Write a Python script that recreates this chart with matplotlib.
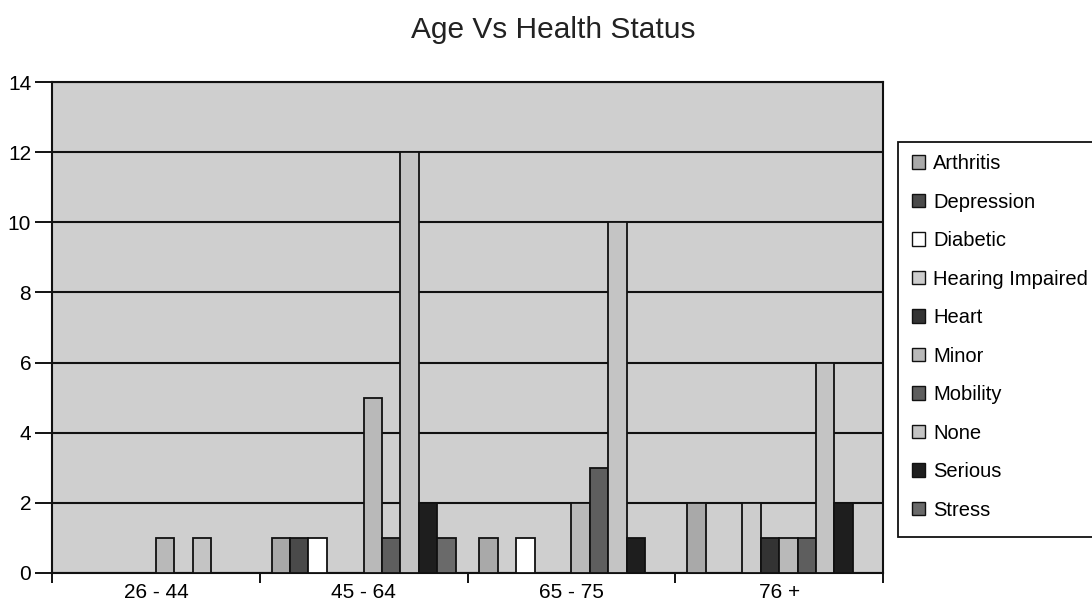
import matplotlib
matplotlib.use('Agg')
import matplotlib.pyplot as plt
import numpy as np
from matplotlib.patches import Patch, Rectangle

plt.rcParams['font.family'] = ['Liberation Sans', 'DejaVu Sans']

# 数据
age_groups = ['26 - 44', '45 - 64', '65 - 75', '76 +']
conditions = ['Arthritis', 'Depression', 'Diabetic', 'Hearing Impaired', 'Heart',
              'Minor', 'Mobility', 'None', 'Serious', 'Stress']
arthritis = [0, 1, 1, 2]
depression = [0, 1, 0, 0]
diabetic = [0, 1, 1, 0]
hearing = [0, 0, 0, 2]
heart = [0, 0, 0, 1]
minor = [1, 5, 2, 1]
mobility = [0, 1, 3, 1]
none = [1, 12, 10, 6]
serious = [0, 2, 1, 2]
stress = [0, 1, 0, 0]

series = [arthritis, depression, diabetic, hearing, heart,
          minor, mobility, none, serious, stress]
colors = ['#a9a9a9', '#4a4a4a', '#ffffff', '#cdcdcd', '#333333',
          '#b9b9b9', '#5e5e5e', '#c4c4c4', '#1e1e1e', '#6a6a6a']

fig = plt.figure(figsize=(10.92, 6.08), dpi=100)
ax = fig.add_axes([52 / 1092, 35 / 608, 831 / 1092, 491 / 608])
ax.set_facecolor('#cfcfcf')

x = np.arange(len(age_groups))
w = 0.0885
for i, (vals, c) in enumerate(zip(series, colors)):
    ax.bar(x + (i - 4.5) * w, vals, width=w, color=c, edgecolor='#111111',
           linewidth=1.3, label=conditions[i], zorder=3)

ax.set_xlim(-0.5, 3.5)
ax.set_ylim(0, 14)
ax.set_yticks(range(0, 15, 2))
ax.yaxis.grid(True, color='#111111', linewidth=1.5, zorder=1)
ax.set_axisbelow(True)

# 刻度：边界处为刻度线，中心处为标签
ax.set_xticks(np.arange(-0.5, 4, 1))
ax.set_xticklabels([])
ax.set_xticks(x, minor=True)
ax.set_xticklabels(age_groups, minor=True)
ax.tick_params(axis='x', which='minor', length=0, pad=7, labelsize=15)
ax.tick_params(axis='x', which='major', length=7, width=1.3, direction='out')
ax.tick_params(axis='y', length=12, width=1.3, direction='out', labelsize=15, pad=3)

for s in ax.spines.values():
    s.set_linewidth(1.5)
    s.set_color('#111111')

fig.text(553 / 1092, 1 - 30 / 608, 'Age Vs Health Status', ha='center', va='center',
         fontsize=21.5, color='#222222')

# 图例框（右侧超出画面）
fig.patches.append(Rectangle((898 / 1092, 1 - 537 / 608), 0.3, 395 / 608,
                             transform=fig.transFigure, facecolor='white',
                             edgecolor='#111111', linewidth=1.3))
handles = [Patch(facecolor=c, edgecolor='#111111', linewidth=1) for c in colors]
leg = fig.legend(handles, conditions, loc='upper left',
                 bbox_to_anchor=(912 / 1092, 1 - 154 / 608),
                 frameon=False, fontsize=14.5, handlelength=0.65,
                 handleheight=0.65, handletextpad=0.4, labelspacing=0.97,
                 borderpad=0, borderaxespad=0)

fig.savefig('out.png', dpi=100)
